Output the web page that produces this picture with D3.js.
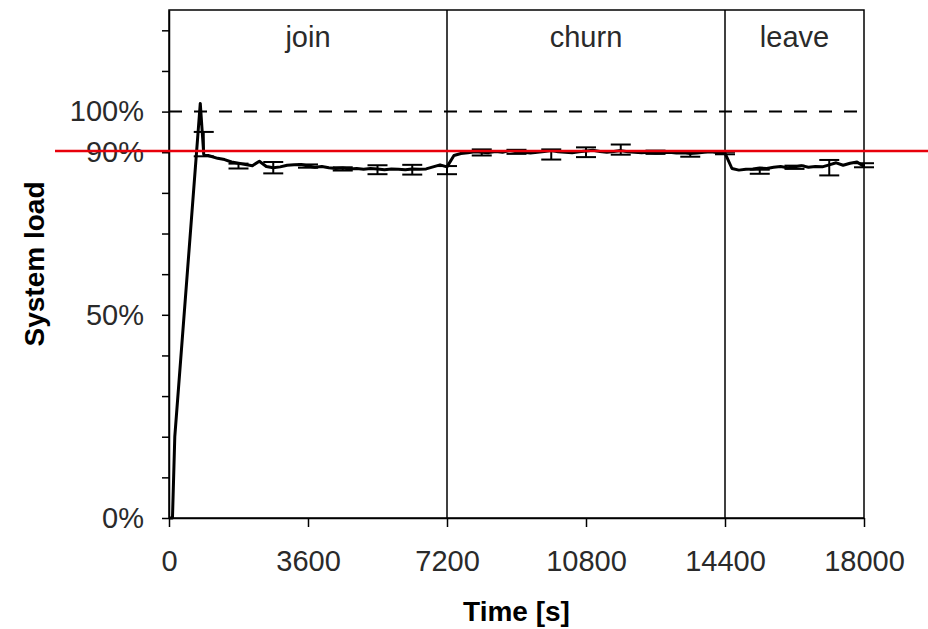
<!DOCTYPE html>
<html>
<head>
<meta charset="utf-8">
<script src="https://d3js.org/d3.v7.min.js"></script>
<style>
  body { margin: 0; background: #fff; }
  text { font-family: "Liberation Sans", Arial, sans-serif; }
</style>
</head>
<body>
<div id="chart"></div>
<script>
// values
var times = [0, 90, 150, 810, 900,
  1080, 1260, 1440, 1620, 1800, 1980, 2160, 2340, 2520, 2700, 2880, 3060, 3240, 3420, 3600,
  3780, 3960, 4140, 4320, 4500, 4680, 4860, 5040, 5220, 5400, 5580, 5760, 5940, 6120, 6300,
  6480, 6660, 6840, 7020, 7200,
  7380, 7560, 7740, 7920, 8100, 8280, 8460, 8640, 8820, 9000, 9180, 9360, 9540, 9720, 9900,
  10080, 10260, 10440, 10620, 10800, 10980, 11160, 11340, 11520, 11700, 11880, 12060, 12240,
  12420, 12600, 12780, 12960, 13140, 13320, 13500, 13680, 13860, 14040, 14220, 14400,
  14580, 14760, 14940, 15120, 15300, 15480, 15660, 15840, 16020, 16200, 16380, 16560, 16740,
  16920, 17100, 17280, 17460, 17640, 17820, 18000];
var load = [0, 0, 20, 102, 89.5,
  89.0, 88.5, 88.2, 87.6, 87.3, 87.0, 86.7, 87.8, 86.5, 86.2, 86.4, 86.8, 86.9, 87.0, 86.6,
  86.3, 86.5, 86.2, 86.0, 86.1, 85.9, 86.0, 85.8, 86.0, 85.9, 85.7, 85.9, 85.8, 85.7, 85.9,
  85.8, 85.9, 86.4, 86.9, 86.4,
  89.2, 89.7, 89.9, 90.1, 90.0, 89.9, 90.2, 90.0, 90.4, 90.1, 90.0, 89.8, 90.0, 90.2, 90.4,
  90.1, 90.0, 89.9, 90.1, 90.3, 90.5, 90.2, 90.0, 90.2, 90.4, 90.1, 90.0, 89.9,
  90.0, 89.8, 89.9, 90.0, 89.8, 89.9, 89.7, 89.8, 90.0, 90.1, 89.9, 89.8,
  86.0, 85.6, 85.8, 85.9, 86.1, 86.0, 86.3, 86.5, 86.2, 86.4, 86.7, 86.3, 86.5,
  86.4, 86.9, 87.4, 86.8, 87.3, 87.6, 86.5];

var barTimes = [900, 1800, 2700, 3600, 4500, 5400, 6300, 7200, 8100, 9000,
  9900, 10800, 11700, 12600, 13500, 14400, 15300, 16200, 17100, 18000];
var barMeans = [92.0, 86.6, 86.2, 86.6, 85.9, 85.7, 85.7, 85.6, 89.95, 90.1,
  89.45, 90.0, 90.65, 90.0, 89.45, 89.8, 85.2, 86.3, 86.2, 86.8];
var barErrors = [3.0, 0.6, 1.4, 0.4, 0.4, 1.1, 1.2, 1.0, 0.75, 0.5,
  1.25, 1.2, 1.25, 0.4, 0.55, 0.3, 0.5, 0.4, 1.9, 0.5];

var phases = ["join", "churn", "leave"];
var phaseBounds = [0, 7200, 14400, 18000];
var xTicks = [0, 3600, 7200, 10800, 14400, 18000];
var yTicks = [0, 10, 20, 30, 40, 50, 60, 70, 80, 90, 100, 110, 120];
var yLabelled = [0, 50, 90, 100];
var capacity = 100;
var target = 90.3;

var margin = {top: 10, right: 64, bottom: 111, left: 169},
  width = 928 - margin.left - margin.right,
  height = 629 - margin.top - margin.bottom;

var svgRoot = d3.select("#chart")
  .append("svg")
    .attr("width", 928)
    .attr("height", 629);
var svg = svgRoot.append("g")
    .attr("transform", "translate(" + margin.left + "," + margin.top + ")");

var x = d3.scaleLinear().domain([0, 18000]).range([0, width]);
var y = d3.scaleLinear().domain([0, 125]).range([height, 0]);

// frame
svg.append("rect")
  .attr("width", width)
  .attr("height", height)
  .style("fill", "none")
  .style("stroke", "#000")
  .style("stroke-width", 1.5);

// axes
var xAxis = svg.append("g")
  .attr("transform", "translate(0," + height + ")")
  .call(d3.axisBottom(x).tickValues(xTicks).tickSize(9).tickPadding(23).tickSizeOuter(0)
    .tickFormat(d3.format("d")));
var yAxis = svg.append("g")
  .call(d3.axisLeft(y).tickValues(yTicks).tickSize(7).tickPadding(18).tickSizeOuter(0)
    .tickFormat(function(d) { return yLabelled.indexOf(d) >= 0 ? d + "%" : ""; }));

[xAxis, yAxis].forEach(function(a) {
  a.select(".domain").style("stroke", "#000").style("stroke-width", 1.5);
  a.selectAll(".tick line").style("stroke", "#000").style("stroke-width", 1.5);
  a.selectAll(".tick text")
    .style("font-family", "'Liberation Sans', Arial, sans-serif")
    .style("font-size", "29px")
    .style("fill", "#2a2a2a");
});

// phase boundaries and names
svg.selectAll(".bound")
  .data(phaseBounds.slice(1, 3))
  .enter()
  .append("line")
    .attr("x1", function(d) { return x(d); })
    .attr("x2", function(d) { return x(d); })
    .attr("y1", 0)
    .attr("y2", height)
    .style("stroke", "#000")
    .style("stroke-width", 1.5);

svg.selectAll(".phase")
  .data(phases)
  .enter()
  .append("text")
    .attr("x", function(d, i) { return x((phaseBounds[i] + phaseBounds[i + 1]) / 2); })
    .attr("y", 37)
    .attr("text-anchor", "middle")
    .style("font-size", "29px")
    .style("fill", "#2a2a2a")
    .text(function(d) { return d; });

// 100% capacity line
svg.append("line")
  .attr("x1", 0)
  .attr("x2", width)
  .attr("y1", y(capacity))
  .attr("y2", y(capacity))
  .style("stroke", "#000")
  .style("stroke-width", 2)
  .style("stroke-dasharray", "13,12");

// error bars
var bars = svg.selectAll(".err")
  .data(barTimes)
  .enter()
  .append("g")
    .style("stroke", "#000")
    .style("stroke-width", 2);
bars.append("line")
  .attr("x1", function(d) { return x(d); })
  .attr("x2", function(d) { return x(d); })
  .attr("y1", function(d, i) { return y(barMeans[i] + barErrors[i]); })
  .attr("y2", function(d, i) { return y(barMeans[i] - barErrors[i]); });
bars.append("line")
  .attr("x1", function(d) { return x(d) - 10; })
  .attr("x2", function(d) { return x(d) + 10; })
  .attr("y1", function(d, i) { return y(barMeans[i] + barErrors[i]); })
  .attr("y2", function(d, i) { return y(barMeans[i] + barErrors[i]); });
bars.append("line")
  .attr("x1", function(d) { return x(d) - 10; })
  .attr("x2", function(d) { return x(d) + 10; })
  .attr("y1", function(d, i) { return y(barMeans[i] - barErrors[i]); })
  .attr("y2", function(d, i) { return y(barMeans[i] - barErrors[i]); });

// load curve
var line = d3.line()
  .x(function(d) { return x(d); })
  .y(function(d, i) { return y(load[i]); });
svg.append("path")
  .attr("d", line(times))
  .style("fill", "none")
  .style("stroke", "#000")
  .style("stroke-width", 3)
  .style("stroke-linejoin", "round");

// axis titles
svgRoot.append("text")
  .attr("x", margin.left + width / 2)
  .attr("y", 621)
  .attr("text-anchor", "middle")
  .style("font-size", "28px")
  .style("font-weight", "bold")
  .text("Time [s]");
svgRoot.append("text")
  .attr("transform", "translate(44," + (margin.top + height / 2) + ") rotate(-90)")
  .attr("text-anchor", "middle")
  .style("font-size", "28px")
  .style("font-weight", "bold")
  .text("System load");

// red 90% marker across the whole picture
svgRoot.append("line")
  .attr("x1", 55)
  .attr("x2", 928)
  .attr("y1", margin.top + y(target))
  .attr("y2", margin.top + y(target))
  .style("stroke", "#e8000b")
  .style("stroke-width", 2.5);
</script>
</body>
</html>
